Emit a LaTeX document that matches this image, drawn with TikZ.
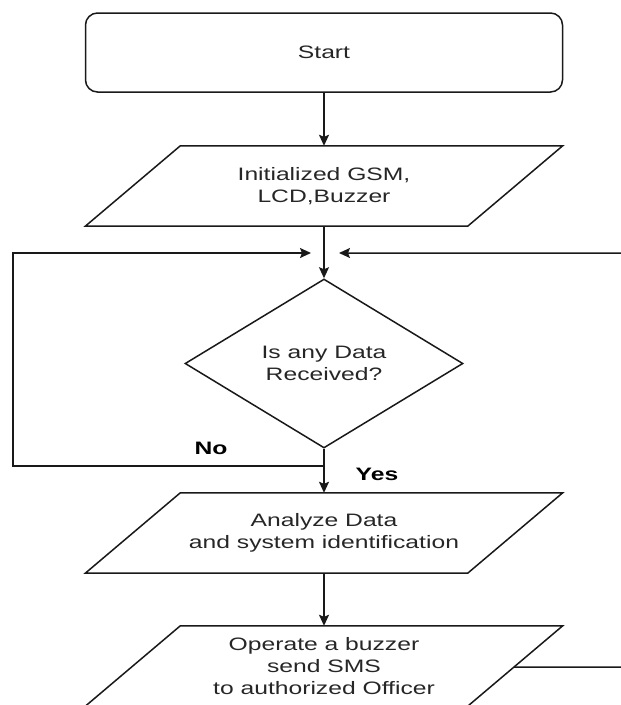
\documentclass[tikz,border=0pt]{standalone}
\usepackage{fontspec}
\setmainfont{Liberation Sans}[FakeStretch=1.37]
\usetikzlibrary{shapes.geometric,arrows.meta,calc}
\begin{document}
\begin{tikzpicture}[x=1pt,y=1pt,
  every node/.style={font=\fontsize{18}{22}\selectfont, text=black!85, align=center},
  line/.style={line width=1.5pt, draw=black!90},
  arr/.style={line, -{Stealth[length=11pt,width=10pt,inset=2pt]}},
  paranode/.style={minimum width=477pt, minimum height=80pt, inner sep=0pt},
  lbl/.style={font=\fontsize{18}{22}\selectfont\bfseries, text=black}]
\useasboundingbox (0,0) rectangle (621,-705);
% nodes
\node[line, draw, rounded corners=12pt, minimum width=477pt, minimum height=79pt, inner sep=0pt] (start) at (324,-52.5) {Start};
\node[paranode] (p1) at (324,-186) {Initialized GSM,\\LCD,Buzzer};
\node[diamond, line, draw, minimum width=278pt, minimum height=169pt, shape aspect=1.645, inner sep=0pt] (d) at (324,-363.5) {Is any Data\\Received?};
\node[paranode] (p2) at (324,-533) {Analyze Data\\and system identification};
\node[paranode] (p3) at (324,-666) {Operate a buzzer\\send SMS\\to authorized Officer};
\node[lbl] (no) at (211,-448) {No};
\node[lbl] (yes) at (377,-474) {Yes};
% parallelograms
\foreach \p in {p1,p2,p3}{
  \draw[line] ([xshift=95pt]\p.north west) -- (\p.north east) -- ([xshift=-95pt]\p.south east) -- (\p.south west) -- cycle;
}
% connectors
\draw[arr] (start.south) -- (p1.north);
\draw[arr] (p1.south) -- (d.north);
\draw[arr] (d.south) -- (p2.north);
\draw[arr] (p2.south) -- (p3.north);
\coordinate (nb) at (324,-466);
\coordinate (lb) at (13,-466);
\coordinate (lt) at (13,-253);
\coordinate (li) at (311,-253);
\draw[arr] (nb) -- (lb) -- (lt) -- (li);
\coordinate (pr) at ($(p3.north east)!0.5125!([xshift=-95pt]p3.south east)$);
\coordinate (rb) at (623,-667);
\coordinate (rt) at (623,-253);
\coordinate (ri) at (339,-253);
\draw[arr] (pr) -- (rb) -- (rt) -- (ri);
\end{tikzpicture}
\end{document}
